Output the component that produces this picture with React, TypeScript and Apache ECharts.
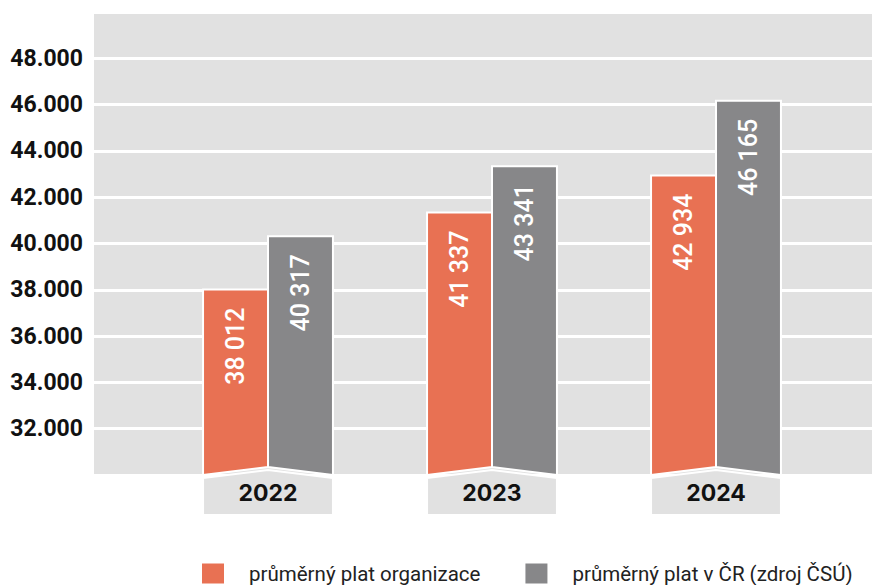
import React, { useEffect, useRef } from "react";
import * as echarts from "echarts";

const categories = ["2022", "2023", "2024"];
const orgValues = [38012, 41337, 42934];
const czValues = [40317, 43341, 46165];
const seriesNames = ["průměrný plat organizace", "průměrný plat v ČR (zdroj ČSÚ)"];
const yMin = 30000;
const yMax = 50000;
const yStep = 2000;

const ORANGE = "#E87153";
const GRAY = "#878789";
const BG = "#E1E1E1";

const fmtAxis = (v: number) => String(v).replace(/\B(?=(\d{3})+(?!\d))/g, ".");
const fmtBar = (v: number) => String(v).replace(/\B(?=(\d{3})+(?!\d))/g, " ");

function makeBarRender(side: "left" | "right", color: string) {
  return (params: any, api: any) => {
    const idx = api.value(0);
    const v = api.value(1);
    const [cx, top] = api.coord([idx, v]);
    const bottom = api.coord([idx, yMin])[1];
    const band = api.size([1, 0])[0];
    const w = band * 0.29;
    const points =
      side === "left"
        ? [[cx - w, top], [cx, top], [cx, bottom - 8], [cx - w, bottom]]
        : [[cx, top], [cx + w, top], [cx + w, bottom], [cx, bottom - 8]];
    const tx = side === "left" ? cx - w / 2 : cx + w / 2;
    return {
      type: "group",
      children: [
        {
          type: "polygon",
          shape: { points },
          style: { fill: color, stroke: "#ffffff", lineWidth: 2 },
        },
        {
          type: "text",
          x: tx,
          y: top + 18,
          rotation: Math.PI / 2,
          style: {
            text: fmtBar(v),
            fill: "#ffffff",
            fontSize: 25,
            fontWeight: 500,
            fontFamily: "Roboto",
            align: "right",
            verticalAlign: "middle",
          },
        },
      ],
    };
  };
}

function renderYearBox(params: any, api: any) {
  const idx = api.value(0);
  const [cx, bottom] = api.coord([idx, yMin]);
  const band = api.size([1, 0])[0];
  const w = band * 0.29;
  return {
    type: "group",
    children: [
      {
        type: "polygon",
        shape: {
          points: [
            [cx - w, bottom + 3],
            [cx, bottom - 5],
            [cx + w, bottom + 3],
            [cx + w, bottom + 40],
            [cx - w, bottom + 40],
          ],
        },
        style: { fill: BG, stroke: "#ffffff", lineWidth: 2 },
      },
      {
        type: "text",
        x: cx,
        y: bottom + 18,
        style: {
          text: categories[idx],
          fill: "#111111",
          fontSize: 23,
          fontWeight: "bold",
          fontFamily: "Inter",
          align: "center",
          verticalAlign: "middle",
        },
      },
    ],
  };
}

export default function App() {
  const ref = useRef<HTMLDivElement>(null);
  useEffect(() => {
    document.body.style.margin = "0";
    if (!ref.current) return;
    const chart = echarts.init(ref.current, undefined, { renderer: "svg" });
    chart.setOption({
      animation: false,
      grid: [
        {
          left: 94,
          right: 0,
          top: 12,
          bottom: 110,
          show: true,
          backgroundColor: BG,
          borderWidth: 0,
        },
        { left: 156, width: 672, top: 12, bottom: 110 },
      ],
      xAxis: [
        { type: "category", gridIndex: 0, data: categories, show: false },
        { type: "category", gridIndex: 1, data: categories, show: false },
      ],
      yAxis: [
        {
          type: "value",
          gridIndex: 0,
          min: yMin,
          max: yMax,
          interval: yStep,
          axisLine: { show: false },
          axisTick: { show: false },
          splitLine: { show: true, lineStyle: { color: "#ffffff", width: 3 } },
          axisLabel: {
            margin: 11,
            color: "#111111",
            fontSize: 23,
            fontWeight: "bold",
            fontFamily: "Roboto",
            formatter: (v: number) => (v === yMin || v === yMax ? "" : fmtAxis(v)),
          },
        },
        { type: "value", gridIndex: 1, min: yMin, max: yMax, interval: yStep, show: false },
      ],
      legend: {
        data: seriesNames,
        left: 197,
        top: 558,
        icon: "rect",
        itemWidth: 22,
        itemHeight: 20,
        itemGap: 45,
        textStyle: {
          fontSize: 20.5,
          fontFamily: "Roboto",
          color: "#222222",
          padding: [0, 0, 0, 20],
        },
      },
      series: [
        {
          type: "custom",
          name: "years",
          xAxisIndex: 1,
          yAxisIndex: 1,
          clip: false,
          renderItem: renderYearBox,
          data: categories.map((c, i) => [i, yMin]),
          z: 1,
        },
        {
          type: "custom",
          name: seriesNames[0],
          xAxisIndex: 1,
          yAxisIndex: 1,
          clip: false,
          itemStyle: { color: ORANGE },
          renderItem: makeBarRender("left", ORANGE),
          data: orgValues.map((v, i) => [i, v]),
          z: 2,
        },
        {
          type: "custom",
          name: seriesNames[1],
          xAxisIndex: 1,
          yAxisIndex: 1,
          clip: false,
          itemStyle: { color: GRAY },
          renderItem: makeBarRender("right", GRAY),
          data: czValues.map((v, i) => [i, v]),
          z: 2,
        },
      ],
    });
    return () => chart.dispose();
  }, []);
  return <div ref={ref} style={{ width: 872, height: 585 }} />;
}
